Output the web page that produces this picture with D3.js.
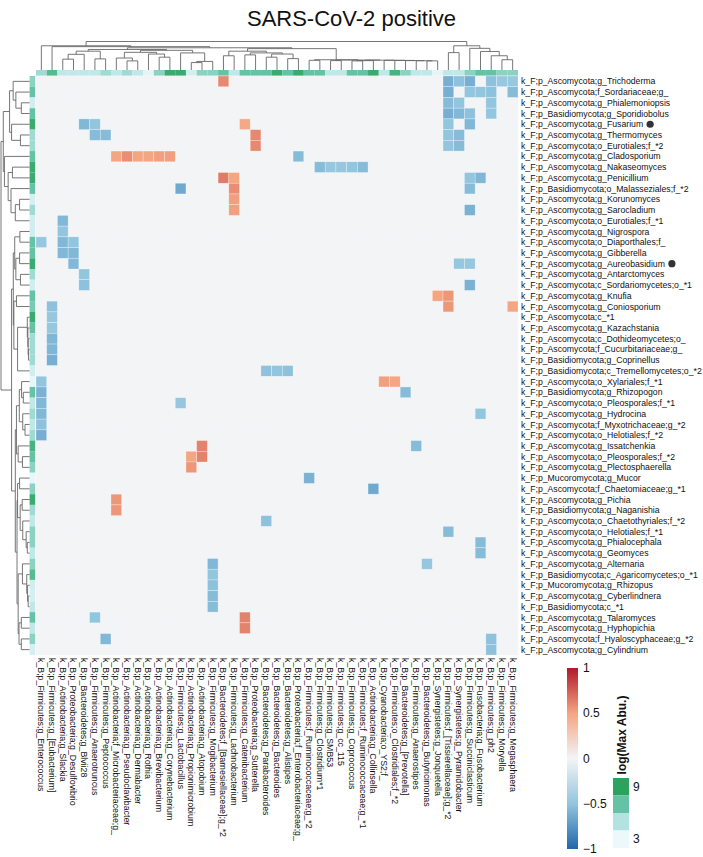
<!DOCTYPE html>
<html><head><meta charset="utf-8">
<script src="https://cdn.jsdelivr.net/npm/d3@7"></script>
<style>body{margin:0;background:#fff;} text{font-family:"Liberation Sans",Arial,sans-serif;fill:#111;}</style>
</head><body><svg id="c" width="703" height="857"></svg>
<script>
const colLabels = [
"k_B;p_Firmicutes;g_Enterococcus","k_B;p_Firmicutes;g_[Eubacterium]","k_B;p_Actinobacteria;g_Slackia",
"k_B;p_Proteobacteria;g_Desulfovibrio","k_B;p_Bacteroidetes;g_Blvii28","k_B;p_Firmicutes;g_Anaerotruncus",
"k_B;p_Firmicutes;g_Peptococcus","k_B;p_Actinobacteria;f_Microbacteriaceae;g_","k_B;p_Actinobacteria;g_Pseudoclavibacter",
"k_B;p_Actinobacteria;g_Dermabacter","k_B;p_Actinobacteria;g_Rothia","k_B;p_Actinobacteria;g_Brevibacterium",
"k_B;p_Actinobacteria;g_Corynebacterium","k_B;p_Firmicutes;g_Lactobacillus","k_B;p_Actinobacteria;g_Propionimicrobium",
"k_B;p_Actinobacteria;g_Atopobium","k_B;p_Firmicutes;g_Mogibacterium","k_B;p_Bacteroidetes;f_[Barnesiellaceae];g_*2",
"k_B;p_Firmicutes;g_Lachnobacterium","k_B;p_Firmicutes;g_Catenibacterium","k_B;p_Proteobacteria;g_Sutterella",
"k_B;p_Bacteroidetes;g_Parabacteroides","k_B;p_Bacteroidetes;g_Bacteroides","k_B;p_Bacteroidetes;g_Alistipes",
"k_B;p_Proteobacteria;f_Enterobacteriaceae;g_","k_B;p_Firmicutes;f_Ruminococcaceae;g_*2","k_B;p_Firmicutes;g_Clostridium*1",
"k_B;p_Firmicutes;g_SMB53","k_B;p_Firmicutes;g_cc_115","k_B;p_Firmicutes;g_Coprococcus",
"k_B;p_Firmicutes;f_Ruminococcaceae;g_*1","k_B;p_Actinobacteria;g_Collinsella","k_B;p_Cyanobacteria;o_YS2;f_",
"k_B;p_Firmicutes;o_Clostridiales;f_*2","k_B;p_Bacteroidetes;g_[Prevotella]","k_B;p_Firmicutes;g_Anaerostipes",
"k_B;p_Bacteroidetes;g_Butyricimonas","k_B;p_Synergistetes;g_Jonquetella","k_B;p_Firmicutes;f_[Tissierellaceae];g_*2",
"k_B;p_Synergistetes;g_Pyramidobacter","k_B;p_Firmicutes;g_Succiniclasticum","k_B;p_Fusobacteria;g_Fusobacterium",
"k_B;p_Firmicutes;g_ph2","k_B;p_Firmicutes;g_Moryella","k_B;p_Firmicutes;g_Megasphaera"];

const rowLabels = [
"k_F;p_Ascomycota;g_Trichoderma","k_F;p_Ascomycota;f_Sordariaceae;g_","k_F;p_Ascomycota;g_Phialemoniopsis",
"k_F;p_Basidiomycota;g_Sporidiobolus","k_F;p_Ascomycota;g_Fusarium","k_F;p_Ascomycota;g_Thermomyces",
"k_F;p_Ascomycota;o_Eurotiales;f_*2","k_F;p_Ascomycota;g_Cladosporium","k_F;p_Ascomycota;g_Nakaseomyces",
"k_F;p_Ascomycota;g_Penicillium","k_F;p_Basidiomycota;o_Malasseziales;f_*2","k_F;p_Ascomycota;g_Korunomyces",
"k_F;p_Ascomycota;g_Sarocladium","k_F;p_Ascomycota;o_Eurotiales;f_*1","k_F;p_Ascomycota;g_Nigrospora",
"k_F;p_Ascomycota;o_Diaporthales;f_","k_F;p_Ascomycota;g_Gibberella","k_F;p_Ascomycota;g_Aureobasidium",
"k_F;p_Ascomycota;g_Antarctomyces","k_F;p_Ascomycota;c_Sordariomycetes;o_*1","k_F;p_Ascomycota;g_Knufia",
"k_F;p_Ascomycota;g_Coniosporium","k_F;p_Ascomycota;c_*1","k_F;p_Ascomycota;g_Kazachstania",
"k_F;p_Ascomycota;c_Dothideomycetes;o_","k_F;p_Ascomycota;f_Cucurbitariaceae;g_","k_F;p_Basidiomycota;g_Coprinellus",
"k_F;p_Basidiomycota;c_Tremellomycetes;o_*2","k_F;p_Ascomycota;o_Xylariales;f_*1","k_F;p_Basidiomycota;g_Rhizopogon",
"k_F;p_Ascomycota;o_Pleosporales;f_*1","k_F;p_Ascomycota;g_Hydrocina","k_F;p_Ascomycota;f_Myxotrichaceae;g_*2",
"k_F;p_Ascomycota;o_Helotiales;f_*2","k_F;p_Ascomycota;g_Issatchenkia","k_F;p_Ascomycota;o_Pleosporales;f_*2",
"k_F;p_Ascomycota;g_Plectosphaerella","k_F;p_Mucoromycota;g_Mucor","k_F;p_Ascomycota;f_Chaetomiaceae;g_*1",
"k_F;p_Ascomycota;g_Pichia","k_F;p_Basidiomycota;g_Naganishia","k_F;p_Ascomycota;o_Chaetothyriales;f_*2",
"k_F;p_Ascomycota;o_Helotiales;f_*1","k_F;p_Ascomycota;g_Phialocephala","k_F;p_Ascomycota;g_Geomyces",
"k_F;p_Ascomycota;g_Alternaria","k_F;p_Basidiomycota;c_Agaricomycetes;o_*1","k_F;p_Mucoromycota;g_Rhizopus",
"k_F;p_Ascomycota;g_Cyberlindnera","k_F;p_Basidiomycota;c_*1","k_F;p_Ascomycota;g_Talaromyces",
"k_F;p_Ascomycota;g_Hyphopichia","k_F;p_Ascomycota;f_Hyaloscyphaceae;g_*2","k_F;p_Ascomycota;g_Cylindrium"];

// log(Max Abu.) annotation values
const colAnno = [5.5,7.5,4.5,4.5,4.5,4.5,5.5,4.5,5.5,4.5,3.3,6,8.5,8.5,3.8,6,6,7,4.5,7,7,7,8.5,7,8.5,7,7,4.5,4.5,7,7,8.5,4.5,8,6,4.5,4.5,3.3,4.5,4.5,6,7,7,6,6];
const rowAnno = [6,7,4,7,8.5,5.5,5.5,7,8.5,8.5,7,3.8,5.5,4,4,7,7,8.5,5.5,4,7,6.5,8.5,7,5.5,5.5,5.5,4,3.2,7,4.5,5.5,4.5,5.5,8,7,6,3.2,6,8.5,5.5,4.5,6,6,4.5,6,7.5,4,3.8,4.5,7,4.5,6,3.8];

// significant correlations: [row index, column index, value]
const cells = [
[0,17,0.6],[0,38,-0.62],[0,39,-0.52],[0,40,-0.62],[0,42,-0.52],[0,43,-0.47],[0,44,-0.47],
[1,38,-0.62],[1,40,-0.5],[1,41,-0.5],[1,42,-0.52],[1,44,-0.55],
[2,38,-0.55],[2,39,-0.5],[2,42,-0.5],
[3,38,-0.62],[3,39,-0.57],[3,40,-0.52],[3,42,-0.5],
[4,4,-0.57],[4,5,-0.5],[4,19,0.48],[4,38,-0.5],[4,40,-0.57],
[5,5,-0.55],[5,6,-0.55],[5,20,0.6],[5,38,-0.5],[5,39,-0.55],
[6,20,0.6],[6,38,-0.5],[6,39,-0.55],
[7,7,0.5],[7,8,0.58],[7,9,0.5],[7,10,0.5],[7,11,0.52],[7,12,0.52],[7,24,-0.55],
[8,26,-0.55],[8,27,-0.48],[8,28,-0.48],[8,29,-0.5],[8,30,-0.55],
[9,17,0.65],[9,18,0.5],[9,40,-0.5],[9,41,-0.58],
[10,13,-0.65],[10,18,0.58],[10,40,-0.55],
[11,18,0.52],
[12,18,0.52],[12,40,-0.6],
[13,2,-0.57],[14,2,-0.5],
[15,0,-0.48],[15,2,-0.57],[15,3,-0.5],
[16,2,-0.57],[16,3,-0.57],
[17,3,-0.57],[17,39,-0.48],[17,40,-0.48],
[18,4,-0.5],[19,4,-0.52],[19,40,-0.6],
[20,37,0.5],[20,38,0.55],
[21,1,-0.52],[21,38,0.55],[21,44,0.5],
[22,1,-0.48],[23,1,-0.48],[24,1,-0.58],[25,1,-0.58],[26,1,-0.62],
[27,21,-0.52],[27,22,-0.5],[27,23,-0.52],
[28,0,-0.5],[28,32,0.52],[28,33,0.5],
[29,0,-0.6],[29,34,-0.55],
[30,0,-0.57],[30,13,-0.48],
[31,0,-0.57],[31,41,-0.5],
[32,0,-0.52],[33,0,-0.62],
[34,15,0.62],[34,35,-0.55],
[35,14,0.5],[35,15,0.62],[36,14,0.55],
[37,25,-0.6],[38,31,-0.65],
[39,7,0.55],[40,7,0.55],
[41,21,-0.52],[42,38,-0.55],[43,41,-0.55],[44,41,-0.55],
[45,16,-0.57],[45,36,-0.48],
[46,16,-0.5],[47,16,-0.52],[48,16,-0.55],[49,16,-0.55],
[50,5,-0.5],[50,19,0.62],[51,19,0.62],
[52,6,-0.57],[52,42,-0.52],[53,42,-0.52]];

const markedRows = ["k_F;p_Ascomycota;g_Fusarium","k_F;p_Ascomycota;g_Aureobasidium"];
const corrTicks = [1,0.5,0,-0.5,-1];
const abuLevels = [9,7,5,3];
const abuTicks = [9,3];

// dendrograms: [height, left, right]; leaves are indices
const colTree = [10,
  [8.5, 0, [8.2, 1, [7.8,
    [7.2, [6.6, [5.5, [3.8, 2, 3], 4], [3.9, 5, 6]],
          [6.9, [6.2, [4.2, 7, [3.2, 8, 9]], [5.6, 10, [4.5, 11, 12]]], [6.0, 13, [3.0, [2.6, 14, 15], 16]]]],
    [7.5, [6.6, [5.0, 17, 18], [6.0, [5.3, 19, 20], [5.6, [4.5, 21, 22], [4.0, 23, 24]]]],
          [3.6, [3.4, 25, 26], [3.5, [3.3, 27, 28], [3.45, [3.3, [3.2, 29, 30], 31], [3.4, 32, [3.35, 33, [3.3, 34, [3.25, 35, [3.2, 36, 37]]]]]]]]]
  ]]],
  [8.5, [6.1, 38, 39], [7.6, 40, [6.5, 41, [5.0, 42, [3.6, 43, 44]]]]]
];
const rowTree = [10,
  [9.2, [7.0, [5.75, 0, [4.8, 1, [2.9, 2, 3]]], [6.3, 4, [3.2, 5, 6]]],
        [8.8, 7, [7.5, [6.0, 8, 9], [6.5, 10, [5.0, [3.5, 11, 12], 13]]]]],
  [6.3,
    [5.7, [5.2, [3.4, 14, 15], [4.8, [3.5, 16, 17], [3.2, 18, 19]]],
          [5.5, [4.6, 20, 21], [4.2, [0.8, 22, [0.6, 23, [0.5, 24, [0.4, 25, 26]]]], 27]]],
    [5.0, [4.6, [3.6, [2.8, 28, [2.2, 29, 30]], [2.4, 31, [1.6, 32, 33]]], [4.0, 34, [2.5, 35, 36]]],
          [4.4, [4.2, [3.5, 37, 38], [3.3, [2.6, 39, 40], [2.4, 41, [1.2, 42, [0.8, 43, 44]]]]],
                [4.0, [2.5, 45, [1.0, 46, [0.7, 47, [0.5, 48, 49]]]], [3.7, [2.9, 50, 51], [2.9, 52, 53]]]]]]
];

const svg = d3.select("#c");
const x = d3.scaleBand().domain(colLabels).range([36, 518]);
const y = d3.scaleBand().domain(rowLabels).range([76, 655]);
const heat = d3.scaleLinear().domain([-1,-0.5,0,0.5,1]).range(["#2166ac","#92c5de","#f3f4f6","#f4a582","#b2182b"]);
const green = d3.scaleLinear().domain([3,5,7,9]).range(["#edf8fb","#b2e2e2","#66c2a4","#2ca25f"]);

// title
svg.append("text").attr("x", 351.5).attr("y", 26).attr("text-anchor","middle")
  .style("font-size","22px").text("SARS-CoV-2 positive");

// heatmap cells
const val = new Map();
cells.forEach(([r,c,v]) => val.set(rowLabels[r] + "|" + colLabels[c], v));
const grid = [];
rowLabels.forEach(r => colLabels.forEach(c => grid.push({r, c, v: val.get(r + "|" + c) || 0})));
svg.append("g").selectAll("rect").data(grid.filter(d => d.v === 0).concat(grid.filter(d => d.v !== 0))).join("rect")
  .attr("x", d => x(d.c)).attr("y", d => y(d.r))
  .attr("width", x.bandwidth()).attr("height", y.bandwidth())
  .attr("fill", d => heat(d.v))
  .attr("stroke", d => d.v === 0 ? heat(0) : "rgba(255,255,255,0.45)").attr("stroke-width", 0.6);

// annotations
svg.append("g").selectAll("rect").data(colLabels).join("rect")
  .attr("x", d => x(d)).attr("y", 70).attr("width", x.bandwidth()).attr("height", 5.6)
  .attr("fill", (d,i) => green(colAnno[i]));
svg.append("g").selectAll("rect").data(rowLabels).join("rect")
  .attr("x", 29.6).attr("y", d => y(d)).attr("width", 5.6).attr("height", y.bandwidth())
  .attr("fill", (d,i) => green(rowAnno[i]));

// dendrograms
function drawTree(g, tree, leafPos, hPos, vertical) {
  function rec(node) {
    if (typeof node === "number") return {p: leafPos(node), h: 0};
    const a = rec(node[1]), b = rec(node[2]);
    const hh = node[0];
    const seg = (p1, h1, p2, h2) => {
      if (vertical) g.append("line").attr("x1", p1).attr("x2", p2).attr("y1", hPos(h1)).attr("y2", hPos(h2));
      else g.append("line").attr("y1", p1).attr("y2", p2).attr("x1", hPos(h1)).attr("x2", hPos(h2));
    };
    seg(a.p, a.h, a.p, hh);
    seg(b.p, b.h, b.p, hh);
    seg(a.p, hh, b.p, hh);
    return {p: (a.p + b.p) / 2, h: hh};
  }
  rec(tree);
}
const colH = d3.scaleLinear().domain([0,10]).range([70, 41.5]);
const rowH = d3.scaleLinear().domain([0,10]).range([29.6, 1]);
const gc = svg.append("g").attr("stroke","#666").attr("stroke-width",0.9).attr("fill","none");
drawTree(gc, colTree, i => x(colLabels[i]) + x.bandwidth()/2, colH, true);
const gr = svg.append("g").attr("stroke","#666").attr("stroke-width",0.9).attr("fill","none");
drawTree(gr, rowTree, i => y(rowLabels[i]) + y.bandwidth()/2, rowH, false);

// row labels
const rl = svg.append("g").selectAll("text").data(rowLabels).join("text")
  .attr("x", 521).attr("y", d => y(d) + y.bandwidth()/2).attr("dy","0.35em")
  .style("font-size","8.7px").text(d => d);
rl.each(function(d) {
  if (markedRows.includes(d)) {
    const w = this.getComputedTextLength();
    svg.append("circle").attr("cx", 521 + w + 7).attr("cy", y(d) + y.bandwidth()/2)
      .attr("r", 3.6).attr("fill", "#333");
  }
});

// column labels
svg.append("g").selectAll("text").data(colLabels).join("text")
  .attr("transform", d => `translate(${x(d) + x.bandwidth()/2},658) rotate(90)`)
  .attr("dy","0.35em").style("font-size","8.8px").text(d => d);

// correlation legend
const defs = svg.append("defs");
const grad = defs.append("linearGradient").attr("id","cg").attr("x1",0).attr("x2",0).attr("y1",1).attr("y2",0);
d3.range(0, 1.0001, 0.05).forEach(t => grad.append("stop").attr("offset", t).attr("stop-color", heat(-1 + 2*t)));
const ly = d3.scaleLinear().domain([-1,1]).range([849, 668]);
svg.append("rect").attr("x", 567).attr("y", 668).attr("width", 11).attr("height", 181).attr("fill","url(#cg)");
svg.append("g").selectAll("text").data(corrTicks).join("text")
  .attr("x", 583).attr("y", d => ly(d)).attr("dy","0.35em").style("font-size","12px")
  .text(d => d3.format("")(d));

// abundance legend
svg.append("text").attr("transform","translate(626,735) rotate(-90)").attr("text-anchor","middle")
  .style("font-size","12px").style("font-weight","bold").text("log(Max Abu.)");
const by = d3.scaleBand().domain(abuLevels).range([778, 848]);
svg.append("g").selectAll("rect").data(abuLevels).join("rect")
  .attr("x", 613).attr("y", d => by(d)).attr("width", 16).attr("height", by.bandwidth())
  .attr("fill", d => green(d));
svg.append("g").selectAll("text").data(abuTicks).join("text")
  .attr("x", 633).attr("y", d => by(d) + by.bandwidth()/2).attr("dy","0.35em").style("font-size","12px")
  .text(d => d);
</script></body></html>
